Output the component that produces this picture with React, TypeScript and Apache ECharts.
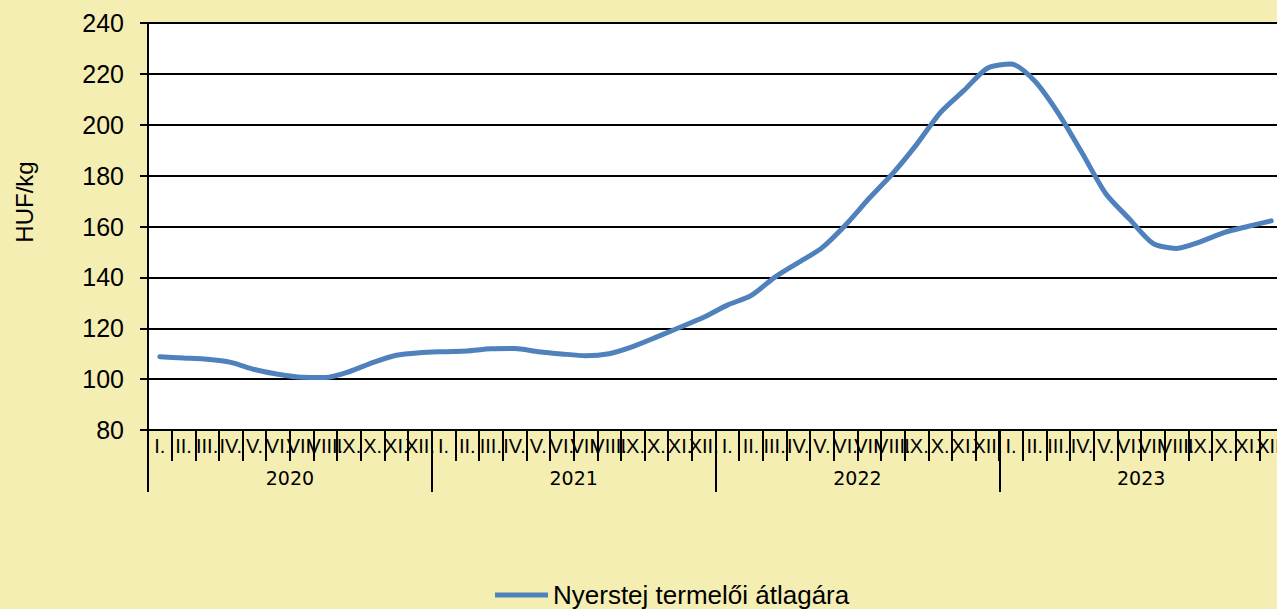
import React, { useEffect, useRef } from "react";
import * as echarts from "echarts";

const monthLabels = ["I.", "II.", "III.", "IV.", "V.", "VI.", "VII.", "VIII.", "IX.", "X.", "XI.", "XII."];
const years = ["2020", "2021", "2022", "2023"];
const seriesName = "Nyerstej termelői átlagára";
const values2020 = [108.8, 108.3, 107.8, 106.6, 103.8, 101.9, 100.7, 100.6, 102.9, 106.5, 109.4, 110.4];
const values2021 = [110.8, 111.1, 111.9, 112.0, 110.8, 109.9, 109.2, 110.0, 112.8, 116.5, 120.4, 124.3];
const values2022 = [129.1, 132.8, 140.0, 145.8, 151.6, 160.6, 171.1, 180.9, 192.2, 204.7, 213.4, 222.2];
const values2023 = [223.9, 217.2, 204.5, 189.0, 173.0, 163.0, 153.4, 151.4, 154.0, 157.6, 160.0, 162.2];
const yTitle = "HUF/kg";

export default function App() {
  const ref = useRef<HTMLDivElement>(null);
  useEffect(() => {
    if (!ref.current) return;
    const chart = echarts.init(ref.current, null, { renderer: "svg" });
    const categories = years.flatMap((y) => monthLabels.map((m) => m));
    const values = [...values2020, ...values2021, ...values2022, ...values2023];
    const font = "Liberation Sans, Arial, sans-serif";
    chart.setOption({
      animation: false,
      backgroundColor: "#F5EEB3",
      grid: {
        left: 148,
        right: 17,
        top: 23,
        bottom: 179,
        show: true,
        backgroundColor: "#ffffff",
        borderWidth: 0,
      },
      legend: {
        left: 495,
        top: 582,
        padding: 0,
        icon: "rect",
        itemWidth: 53,
        itemHeight: 5,
        itemGap: 5,
        textStyle: { fontSize: 26, color: "#000", fontFamily: font, padding: [0, 0, 0, 0] },
        data: [{ name: seriesName, itemStyle: { color: "#4F81BD" } }],
      },
      graphic: [
        {
          type: "text",
          x: 24.5,
          y: 202,
          rotation: Math.PI / 2,
          style: {
            text: yTitle,
            fontSize: 24,
            fontFamily: font,
            fill: "#000",
            align: "center",
            verticalAlign: "middle",
          },
        },
      ],
      xAxis: [
        {
          type: "category",
          data: categories,
          position: "bottom",
          offset: 0,
          boundaryGap: true,
          axisLine: { show: true, lineStyle: { color: "#000", width: 2 } },
          axisTick: { show: true, interval: 0, length: 31, lineStyle: { color: "#000", width: 2 } },
          axisLabel: {
            interval: 0,
            margin: 6,
            fontSize: 20,
            color: "#000",
            fontFamily: font,
          },
          splitLine: { show: false },
        },
        {
          type: "category",
          data: years,
          position: "bottom",
          offset: 0,
          boundaryGap: true,
          axisLine: { show: false },
          axisTick: { show: true, interval: 0, length: 62, lineStyle: { color: "#000", width: 2 } },
          axisLabel: {
            interval: 0,
            margin: 38,
            fontSize: 19,
            color: "#000",
            fontFamily: "DejaVu Sans, sans-serif",
          },
          splitLine: { show: false },
        },
      ],
      yAxis: {
        type: "value",
        min: 80,
        max: 240,
        interval: 20,
        axisLine: { show: true, lineStyle: { color: "#000", width: 2 } },
        axisTick: { show: true, length: 8, lineStyle: { color: "#000", width: 2 } },
        axisLabel: { margin: 24, fontSize: 25, color: "#000", fontFamily: font },
        splitLine: { show: true, lineStyle: { color: "#000", width: 2 } },
      },
      series: [
        {
          name: seriesName,
          type: "line",
          xAxisIndex: 0,
          data: values,
          smooth: 0.25,
          showSymbol: false,
          symbol: "none",
          lineStyle: { color: "#4F81BD", width: 5, cap: "round", join: "round" },
          itemStyle: { color: "#4F81BD" },
        },
      ],
    });
    return () => chart.dispose();
  }, []);
  return (
    <div
      ref={ref}
      style={{ position: "fixed", left: 0, top: 0, width: 1300, height: 609 }}
    />
  );
}
